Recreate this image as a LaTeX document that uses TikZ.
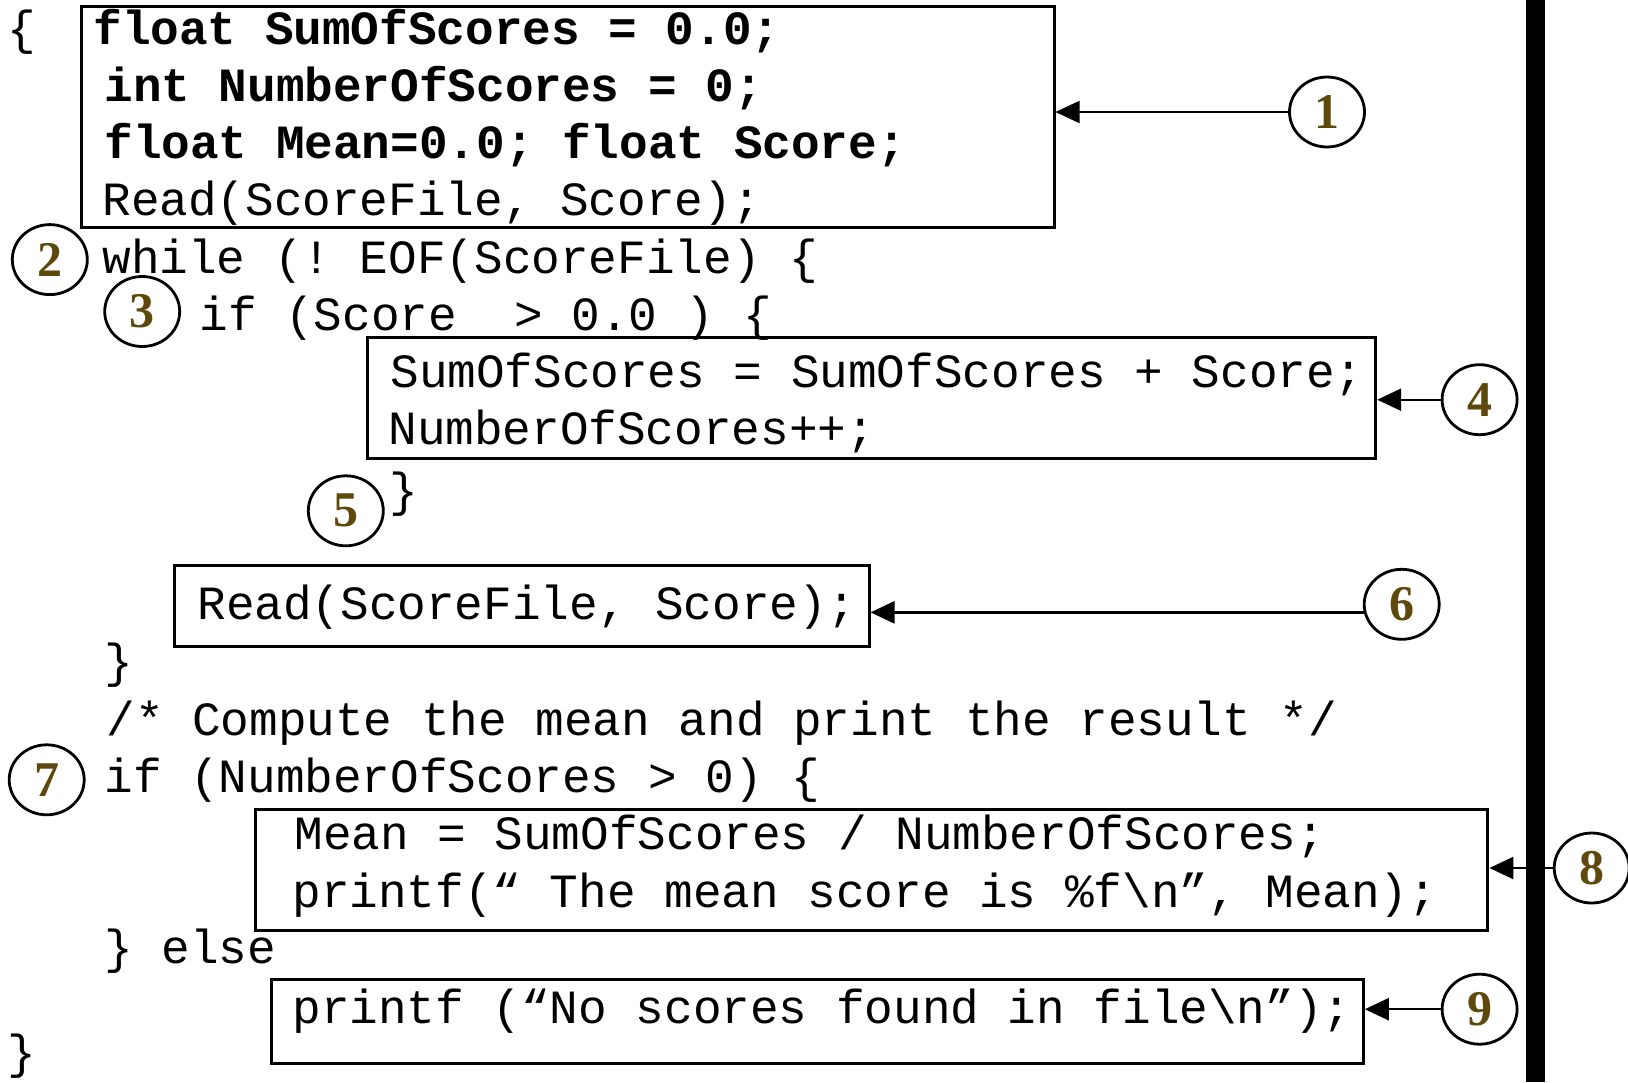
\documentclass[tikz,border=0pt]{standalone}
\usepackage{fontspec}
\setmainfont{Liberation Serif}
\setmonofont{Liberation Mono}
\usetikzlibrary{shapes.geometric, arrows.meta, fit}
\definecolor{numbrown}{RGB}{94,72,12}
\newcommand{\codefont}{\fontsize{23.85}{28}\selectfont\ttfamily\frenchspacing}
\tikzstyle{code} = [anchor=base west, inner sep=0pt, font=\codefont]
\tikzstyle{boldcode} = [code, font=\codefont\bfseries]
\tikzstyle{box} = [rectangle, draw=black, line width=1.5pt, inner sep=0pt]
\tikzstyle{num} = [ellipse, minimum width=37.5pt, minimum height=35pt, inner sep=0pt, draw=black, line width=1.4pt, text=numbrown, font=\fontsize{25}{25}\selectfont\bfseries]
\tikzstyle{arrow} = [line width=1.2pt, ->, >={Triangle[length=12pt,width=11pt]}]

\begin{document}
\begin{tikzpicture}[x=0.5pt, y=-0.5pt]
    \useasboundingbox (0,0) rectangle (1628,1082);
    \fill[black] (1526,0) rectangle (1545,1082);

    % code lines
    \node (lbrace) [code] at (7,44) {\{};
    \node (decl1) [boldcode] at (93,44) {float SumOfScores = 0.0;};
    \node (decl2) [boldcode] at (104,101) {int NumberOfScores = 0;};
    \node (decl3) [boldcode] at (104,158) {float Mean=0.0; float Score;};
    \node (read1) [code] at (102,215) {Read(ScoreFile, Score);};
    \node (while) [code] at (102,273.5) {while (! EOF(ScoreFile) \{};
    \node (ifscore) [code] at (199,330.5) {if (Score\ \ > 0.0 ) \{};
    \node (sum) [code] at (390,387.5) {SumOfScores = SumOfScores + Score;};
    \node (count) [code] at (388,444.5) {NumberOfScores++;};
    \node (rbrace1) [code] at (389,506) {\}};
    \node (read2) [code] at (197,619.5) {Read(ScoreFile, Score);};
    \node (rbrace2) [code] at (104,677.5) {\}};
    \node (comment) [code] at (106,735.5) {/* Compute the mean and print the result */};
    \node (ifcount) [code] at (104,792.5) {if (NumberOfScores > 0) \{};
    \node (mean) [code] at (294,849.5) {Mean = SumOfScores / NumberOfScores;};
    \node (print1) [code] at (292,907.5) {printf(“ The mean score is \%f\textbackslash n”, Mean);};
    \node (else) [code] at (104,963.5) {\} else};
    \node (print2) [code] at (292,1023) {printf (“No scores found in file\textbackslash n”);};
    \node (rbrace3) [code] at (7,1068) {\}};

    % boxes
    \node (box1) [box, fit={(81,6) (1054,227)}] {};
    \node (box4) [box, fit={(367.6,337.4) (1375.7,458.9)}] {};
    \node (box6) [box, fit={(174.4,565.9) (869,646.9)}] {};
    \node (box8) [box, fit={(255.4,809.9) (1487.9,930.3)}] {};
    \node (box9) [box, fit={(271,979.1) (1363.3,1063.2)}] {};

    % numbered marks
    \node (c1) [num] at (1327,112) {1};
    \node (c2) [num] at (49.8,259.6) {2};
    \node (c3) [num] at (142.2,311.5) {3};
    \node (c4) [num] at (1479.6,399.7) {4};
    \node (c5) [num] at (345.8,510.8) {5};
    \node (c6) [num] at (1401.7,604.3) {6};
    \node (c7) [num] at (46.7,779.8) {7};
    \node (c8) [num] at (1591.7,868) {8};
    \node (c9) [num] at (1479.6,1009.2) {9};

    \draw [arrow] (c1.west) -- (c1.west -| box1.east);
    \draw [arrow] (c4.west) -- (c4.west -| box4.east);
    \draw [arrow] (c6.192) -- (c6.192 -| box6.east);
    \draw [arrow] (c8.west) -- (c8.west -| box8.east);
    \draw [arrow] (c9.west) -- (c9.west -| box9.east);
\end{tikzpicture}
\end{document}
